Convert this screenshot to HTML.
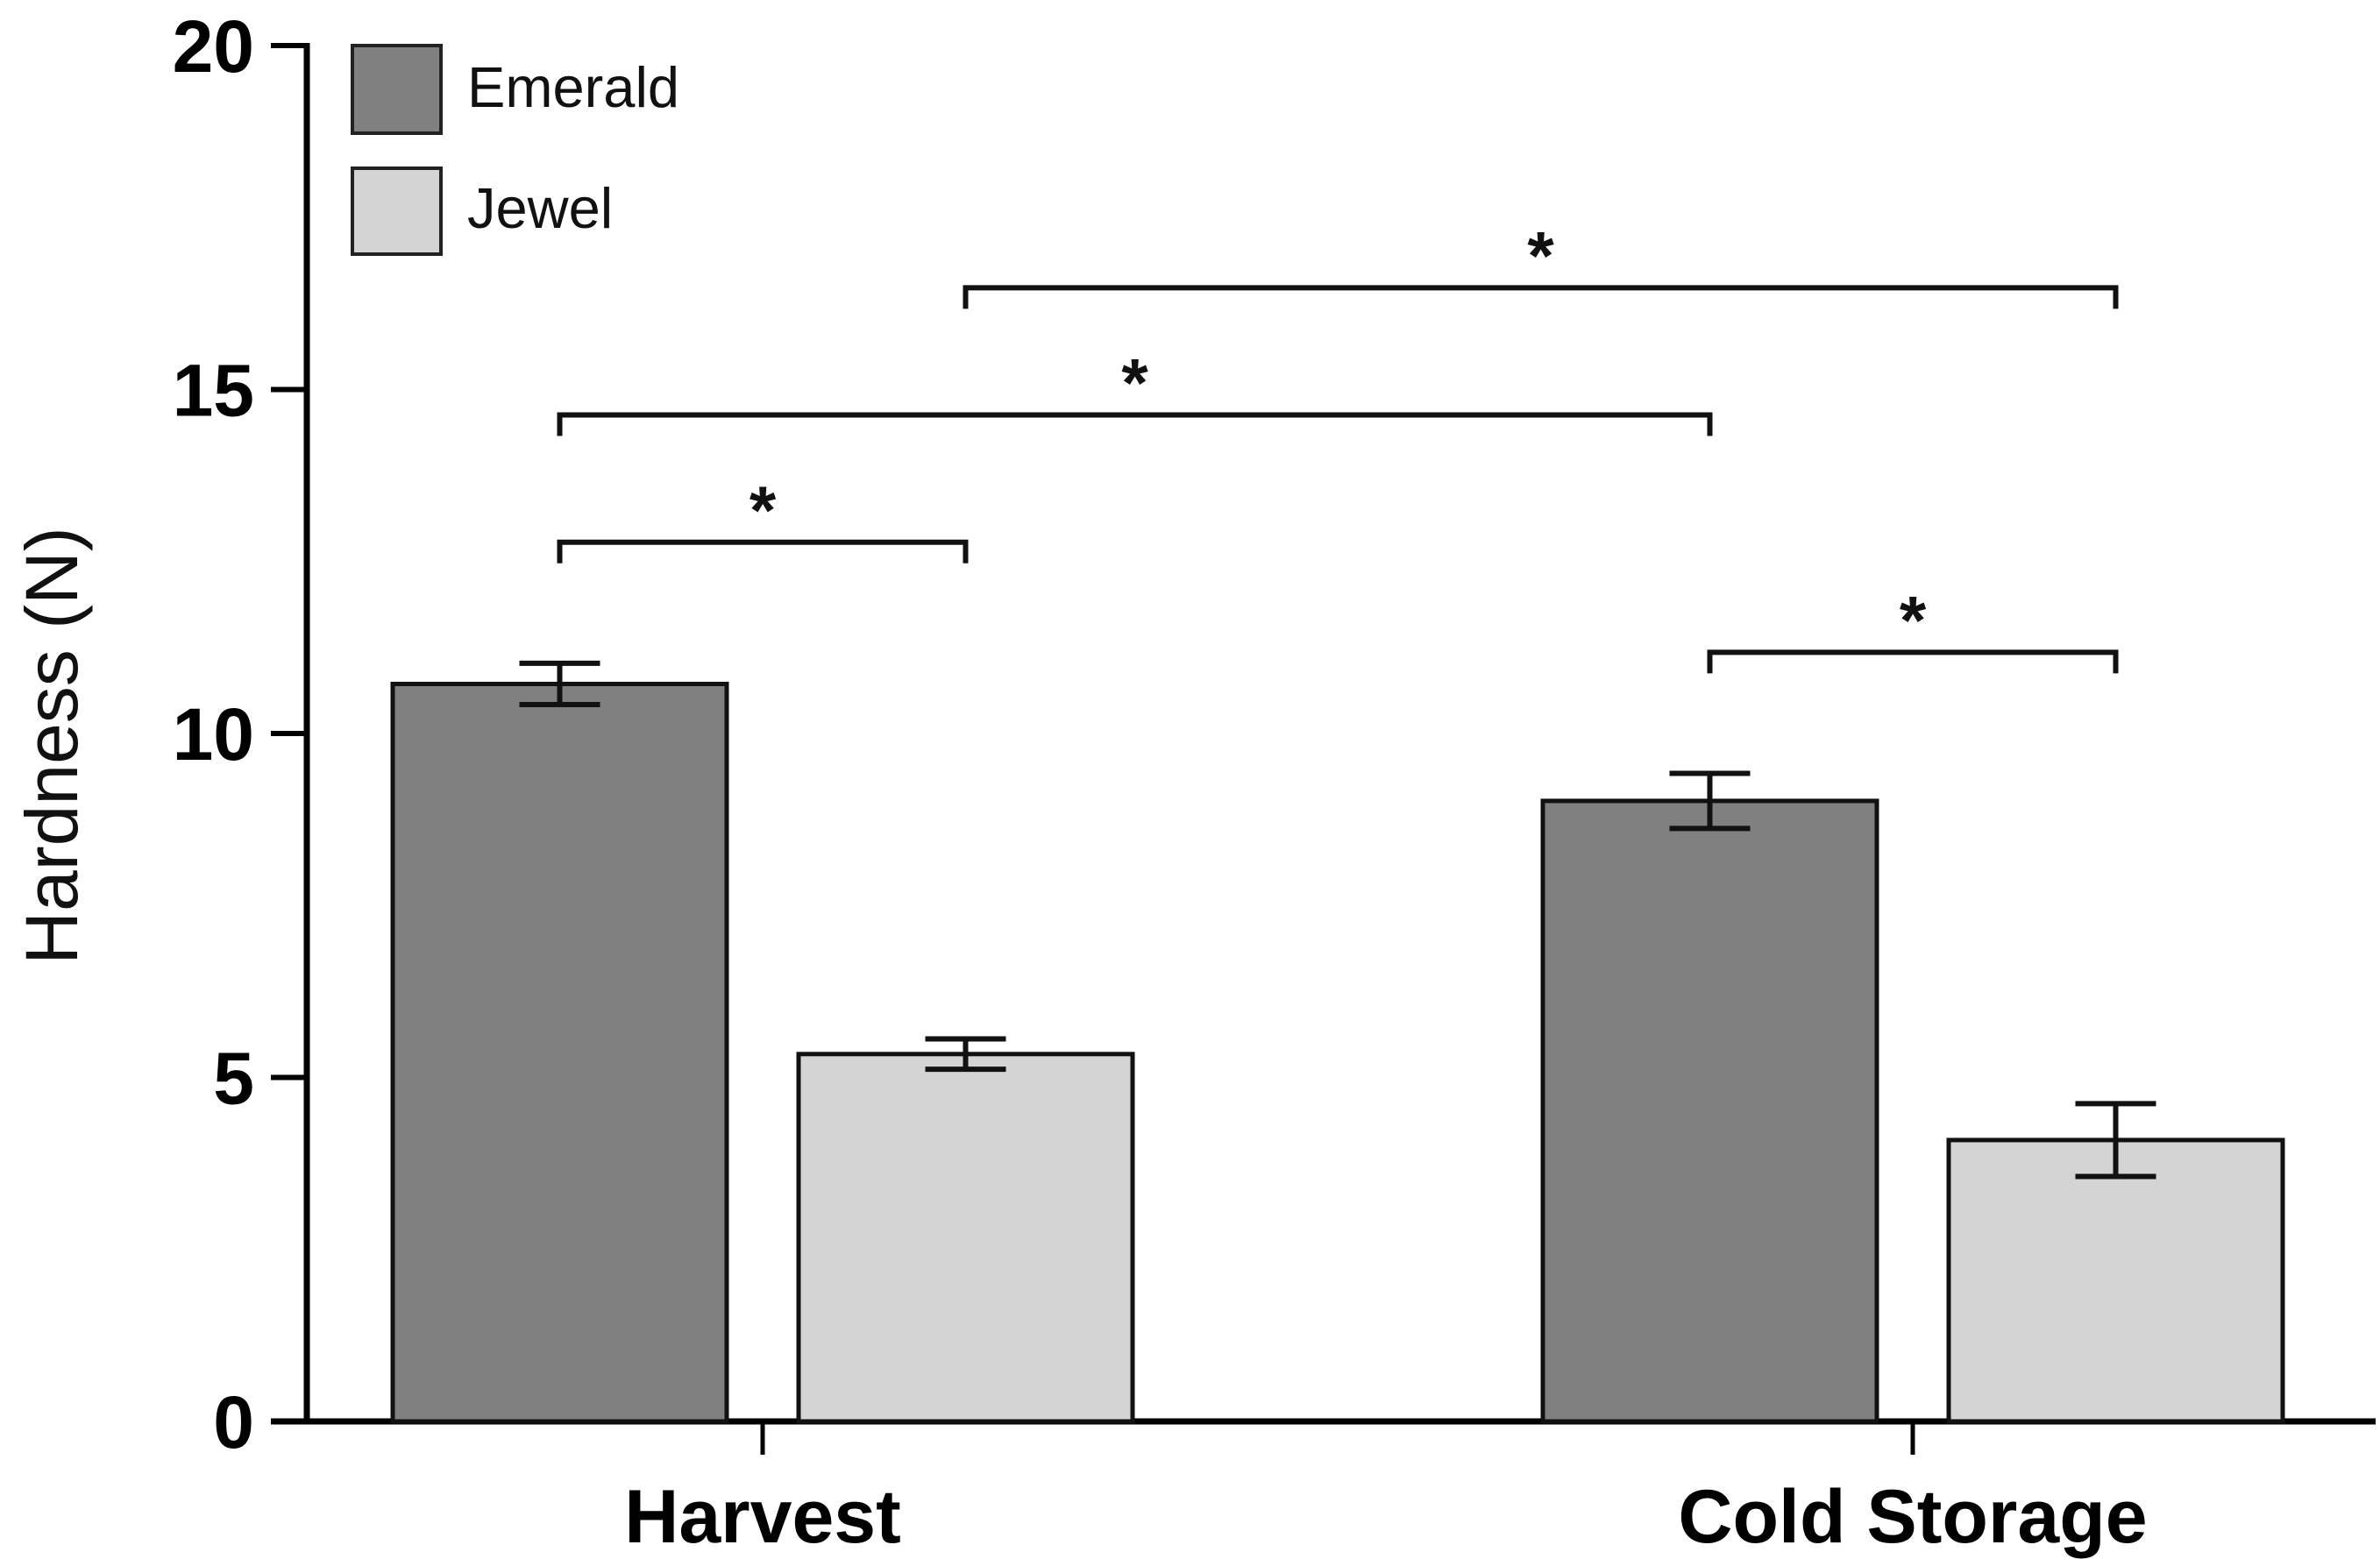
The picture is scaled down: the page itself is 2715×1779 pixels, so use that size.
<!DOCTYPE html>
<html><head><meta charset="utf-8"><style>
html,body{margin:0;padding:0;background:#fff;}
svg{display:block;font-family:"Liberation Sans",Arial,sans-serif;}
</style></head><body>
<svg id="chart" width="2715" height="1779" viewBox="0 0 2715 1779">
<g id="axes"></g>
<g id="bars"></g>
<g id="sig"></g>
<g id="legend">
  <rect x="402" y="52" width="101" height="100" fill="#808080" stroke="#222" stroke-width="4"/>
  <text x="533" y="122" font-size="65" fill="#111">Emerald</text>
  <rect x="402" y="192" width="101" height="98" fill="#d4d4d4" stroke="#222" stroke-width="4"/>
  <text x="533" y="260" font-size="65" fill="#111">Jewel</text>
</g>
<text transform="translate(88,851) rotate(-90)" text-anchor="middle" font-size="84" fill="#111">Hardness (N)</text>
</svg>
<script>
const categories = ["Harvest", "Cold Storage"];
const seriesNames = ["Emerald", "Jewel"];
const emeraldValues = [10.72, 9.02];
const jewelValues = [5.34, 4.09];
const emeraldErr = [0.3, 0.4];
const jewelErr = [0.22, 0.53];
const yTicks = [0, 5, 10, 15, 20];
const sigBrackets = [[0,0,0,1,12.78],[0,0,1,0,14.63],[0,1,1,1,16.48],[1,0,1,1,11.18]]; // [cat,series,cat,series,yValue]

const NS = "http://www.w3.org/2000/svg";
const y0 = 1622, yTop = 52, yMax = 20;
const yScale = v => y0 - (v / yMax) * (y0 - yTop);
const catCenter = [870, 2182];
const barW = 381, barGap = 82;
const barX = (c, s) => catCenter[c] - barGap/2 - barW + s * (barW + barGap);
const barMid = (c, s) => barX(c, s) + barW/2;

function mk(tag, attrs, parent) {
  const e = document.createElementNS(NS, tag);
  for (const k in attrs) e.setAttribute(k, attrs[k]);
  parent.appendChild(e);
  return e;
}
const axes = document.getElementById('axes');
const bars = document.getElementById('bars');
const sig = document.getElementById('sig');

const colors = ["#808080", "#d4d4d4"];
const vals = [emeraldValues, jewelValues];
const errs = [emeraldErr, jewelErr];
for (let c = 0; c < categories.length; c++) {
  for (let s = 0; s < 2; s++) {
    const v = vals[s][c];
    const r = mk('rect', {x: barX(c,s), y: yScale(v), width: barW, height: y0 - yScale(v), fill: colors[s], stroke: "#111", "stroke-width": 5}, bars);
    
    
    const m = barMid(c, s), e = errs[s][c];
    const eg = mk('g', {stroke: "#111", "stroke-width": 6}, bars);
    
    
    mk('line', {x1: m, x2: m, y1: yScale(v + e), y2: yScale(v - e)}, eg);
    mk('line', {x1: m - 46, x2: m + 46, y1: yScale(v + e), y2: yScale(v + e)}, eg);
    mk('line', {x1: m - 46, x2: m + 46, y1: yScale(v - e), y2: yScale(v - e)}, eg);
  }
}

const yl = mk('line', {x1: 350, x2: 350, y1: yTop - 3, y2: y0 + 3, stroke: "#000", "stroke-width": 7}, axes);


const xl = mk('line', {x1: 309, x2: 2710, y1: y0, y2: y0, stroke: "#000", "stroke-width": 7}, axes);


yTicks.forEach(t => {
  const y = yScale(t);
  const tl = mk('line', {x1: 309, x2: 350, y1: y, y2: y, stroke: "#000", "stroke-width": 6}, axes);
  
  
  const tx = mk('text', {x: 290, y: y + 30, "text-anchor": "end", "font-size": 84, "font-weight": "bold", fill: "#000"}, axes);
  tx.textContent = t;
  
  
});
categories.forEach((c, i) => {
  const tl = mk('line', {x1: catCenter[i], x2: catCenter[i], y1: y0, y2: 1660, stroke: "#000", "stroke-width": 5}, axes);
  
  
  const tx = mk('text', {x: catCenter[i], y: 1760, "text-anchor": "middle", "font-size": 86, "font-weight": "bold", fill: "#000"}, axes);
  tx.textContent = c;
  
  
});

sigBrackets.forEach(b => {
  const xa = barMid(b[0], b[1]), xb = barMid(b[2], b[3]), y = yScale(b[4]);
  const g = mk('g', {}, sig);
  
  
  mk('path', {d: `M${xa},${y+24} L${xa},${y} L${xb},${y} L${xb},${y+24}`, fill: "none", stroke: "#111", "stroke-width": 6}, g);
  const st = mk('text', {x: (xa + xb)/2, y: y - 10, "text-anchor": "middle", "font-size": 78, "font-weight": "bold", fill: "#111"}, g);
  st.textContent = "*";
  
  
});
</script>
</body></html>
